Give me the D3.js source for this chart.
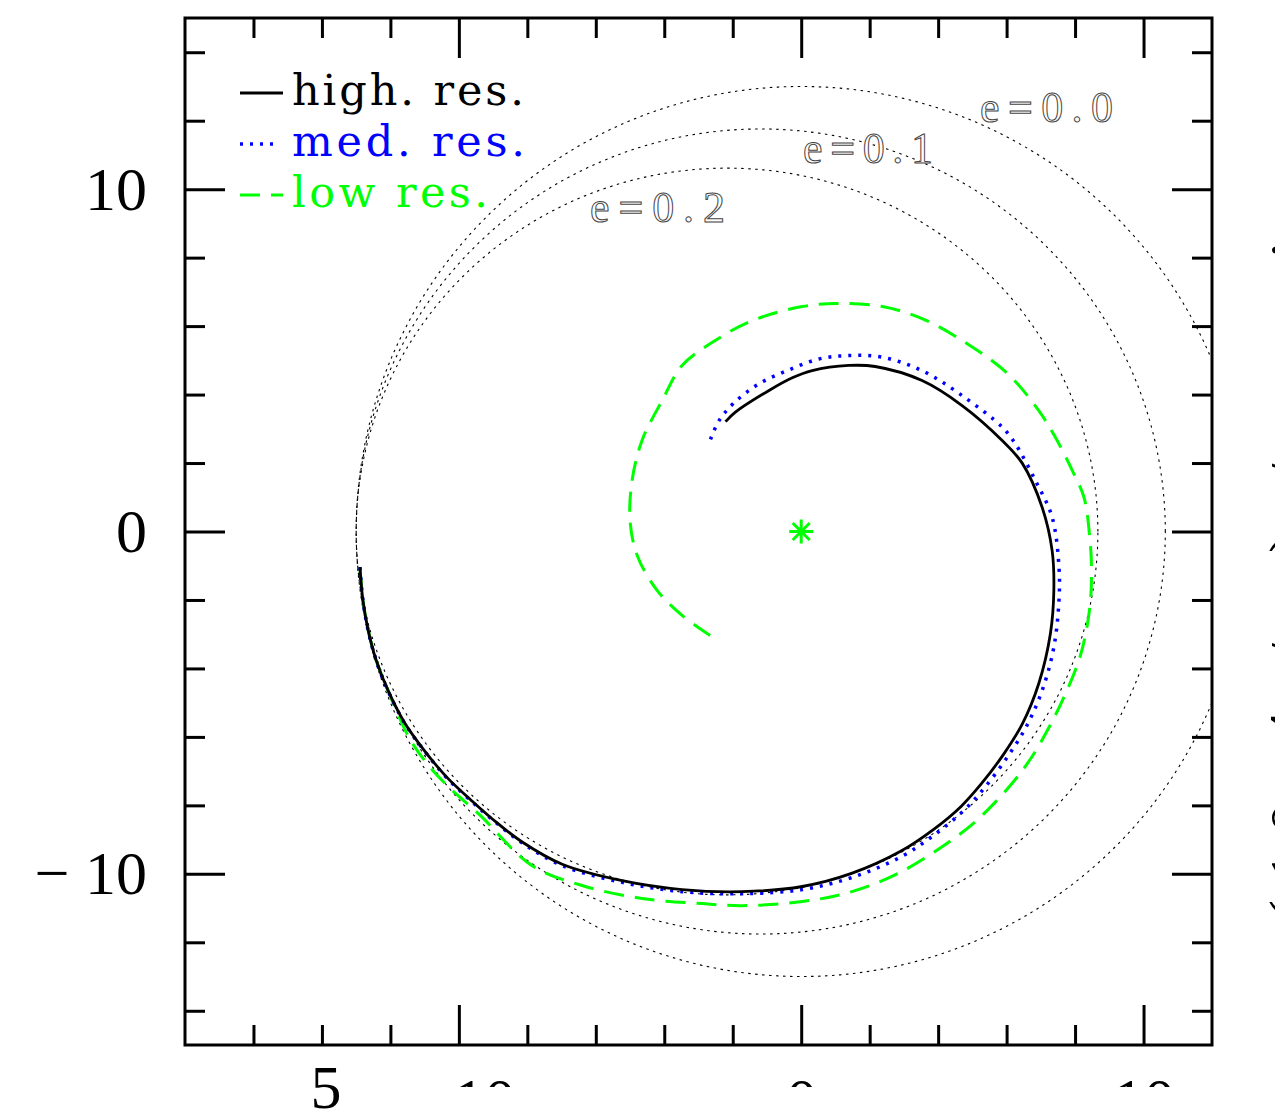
<!DOCTYPE html>
<html>
<head>
<meta charset="utf-8">
<script src="https://cdn.jsdelivr.net/npm/d3@7"></script>
<style>
  body { margin: 0; background: #fff; }
  svg { display: block; }
</style>
</head>
<body>
<div id="chart"></div>
<script>
// tick values
var xMajorTicks = [-10, 0, 10];
var xMinorTicks = [-16, -14, -12, -8, -6, -4, -2, 2, 4, 6, 8];
var yMajorTicks = [-10, 0, 10];
var yMinorTicks = [-14, -12, -8, -6, -4, -2, 2, 4, 6, 8, 12, 14];

// reference orbits: eccentricities and common apocentre distance
var eccentricities = [0.0, 0.1, 0.2];
var eccLabels = ["e=0.0", "e=0.1", "e=0.2"];
var apocentre = 13;

// spiral tracks, [x, y]
var highRes = [[-2.21,3.21],[-1.93,3.48],[-0.94,4.12],[-0.26,4.49],[0.32,4.70],[1.39,4.85],[2.16,4.82],
  [3.53,4.41],[4.70,3.68],[5.87,2.66],[6.46,1.99],[7.04,0.70],[7.33,-0.56],[7.38,-1.72],[7.28,-2.98],
  [6.94,-4.44],[6.46,-5.62],[5.91,-6.51],[5.27,-7.36],[4.67,-8.03],[3.87,-8.70],[2.89,-9.35],
  [1.49,-9.98],[0.03,-10.37],[-1.72,-10.52],[-3.48,-10.46],[-5.23,-10.20],[-6.98,-9.72],[-8.15,-9.07],
  [-9.03,-8.39],[-9.62,-7.87],[-10.37,-7.16],[-11.03,-6.37],[-11.59,-5.58],[-12.08,-4.62],
  [-12.42,-3.75],[-12.65,-2.88],[-12.80,-2.03],[-12.89,-1.04]];
var medRes = [[-2.65,2.69],[-2.40,3.24],[-1.97,3.75],[-1.24,4.31],[-0.36,4.72],[0.52,5.04],[1.39,5.14],
  [2.37,5.09],[3.53,4.70],[4.70,3.97],[5.87,3.05],[6.25,2.57],[6.84,1.49],[7.33,0.42],[7.53,-1.04],
  [7.53,-2.02],[7.38,-3.38],[7.04,-4.64],[6.57,-5.71],[6.00,-6.62],[5.36,-7.48],[4.75,-8.15],
  [3.93,-8.83],[2.94,-9.49],[1.50,-10.10],[0.03,-10.46],[-1.72,-10.58],[-3.48,-10.52],[-5.23,-10.25],
  [-6.98,-9.76],[-8.15,-9.10],[-9.03,-8.41],[-9.62,-7.89],[-10.37,-7.18],[-11.03,-6.38],[-11.59,-5.59],
  [-12.08,-4.63],[-12.42,-3.76],[-12.65,-2.89],[-12.80,-2.03],[-12.89,-1.04]];
var lowRes = [[-2.66,-3.04],[-3.48,-2.45],[-4.21,-1.72],[-4.79,-0.70],[-5.00,0.32],[-4.94,1.49],
  [-4.65,2.66],[-4.06,3.83],[-3.48,4.85],[-2.51,5.58],[-1.43,6.16],[0.03,6.57],[1.05,6.66],[2.37,6.57],
  [3.53,6.22],[4.70,5.58],[6.02,4.62],[6.94,3.53],[7.42,2.76],[7.92,1.78],[8.26,1.00],[8.42,-0.07],
  [8.48,-1.04],[8.45,-2.02],[8.31,-2.99],[8.11,-3.77],[7.72,-4.74],[7.24,-5.72],[6.74,-6.58],
  [6.20,-7.31],[5.30,-8.28],[4.65,-8.83],[2.94,-9.93],[1.48,-10.52],[0.03,-10.81],[-1.73,-10.93],
  [-2.89,-10.87],[-4.65,-10.72],[-6.40,-10.34],[-7.86,-9.76],[-9.42,-8.25],[-10.29,-7.47],
  [-10.93,-6.78],[-11.46,-6.01],[-12.08,-4.62],[-12.42,-3.75],[-12.65,-2.88],
  [-12.80,-2.03],[-12.89,-1.04]];
var centre = [[0, 0]];

var W = 1287, H = 1113;
var pLeft = 185, pRight = 1212, pTop = 18, pBottom = 1045;

var svg = d3.select("#chart").append("svg")
    .attr("width", W)
    .attr("height", H);

var x = d3.scaleLinear().domain([-18, 12]).range([pLeft, pRight]);
var y = d3.scaleLinear().domain([-15, 15]).range([pBottom, pTop]);

svg.append("clipPath").attr("id", "plotclip")
  .append("rect")
    .attr("x", pLeft).attr("y", pTop)
    .attr("width", pRight - pLeft).attr("height", pBottom - pTop);

var plot = svg.append("g").attr("clip-path", "url(#plotclip)");

// reference ellipses, focus at origin, apocentre on the left
var line = d3.line()
    .x(function (d) { return x(d[0]); })
    .y(function (d) { return y(d[1]); });

var thetas = d3.range(0, 361, 1);
eccentricities.forEach(function (e) {
    var a = apocentre / (1 + e);
    var pts = thetas.map(function (t) {
        var th = t * Math.PI / 180;
        var r = a * (1 - e * e) / (1 + e * Math.cos(th));
        return [r * Math.cos(th), r * Math.sin(th)];
    });
    plot.append("path")
        .attr("d", line(pts))
        .attr("fill", "none")
        .attr("stroke", "#000")
        .attr("stroke-width", 1.1)
        .attr("stroke-dasharray", "2.5,4.5");
});

// spiral tracks
var smooth = d3.line()
    .x(function (d) { return x(d[0]); })
    .y(function (d) { return y(d[1]); })
    .curve(d3.curveCatmullRom.alpha(0.5));

plot.append("path")
    .attr("d", smooth(lowRes))
    .attr("fill", "none")
    .attr("stroke", "#00ff00")
    .attr("stroke-width", 3)
    .attr("stroke-dasharray", "20,11");

plot.append("path")
    .attr("d", smooth(medRes))
    .attr("fill", "none")
    .attr("stroke", "#0000ff")
    .attr("stroke-width", 3.5)
    .attr("stroke-dasharray", "3,7");

plot.append("path")
    .attr("d", smooth(highRes))
    .attr("fill", "none")
    .attr("stroke", "#000")
    .attr("stroke-width", 2.8);

// central star
var asterisk = {
    draw: function (ctx, size) {
        var r = Math.sqrt(size) / 2;
        for (var i = 0; i < 4; i++) {
            var a = i * Math.PI / 4;
            ctx.moveTo(-r * Math.cos(a), -r * Math.sin(a));
            ctx.lineTo(r * Math.cos(a), r * Math.sin(a));
        }
    }
};
plot.selectAll(".star")
    .data(centre)
    .enter().append("path")
    .attr("class", "star")
    .attr("transform", function (d) { return "translate(" + x(d[0]) + "," + y(d[1]) + ")"; })
    .attr("d", d3.symbol().type(asterisk).size(24 * 24))
    .attr("fill", "none")
    .attr("stroke", "#00ff00")
    .attr("stroke-width", 3);

// axes with inward ticks on all four sides
var tickFont = "'Liberation Serif', 'DejaVu Serif', serif";
var fmt = function (d) { return d < 0 ? "\u2212 " + Math.abs(d) : String(d); };

function styleAxis(g) {
    g.select(".domain").remove();
    g.selectAll(".tick line").attr("stroke", "#000").attr("stroke-width", 3);
}

// bottom labels are cut short in the reference
svg.append("clipPath").attr("id", "xlabclip")
  .append("rect").attr("x", 0).attr("y", -100).attr("width", W).attr("height", 142);

svg.append("g").attr("transform", "translate(0," + pBottom + ")")
    .call(d3.axisBottom(x).tickValues(xMinorTicks).tickSize(-20).tickFormat(""))
    .call(styleAxis);
svg.append("g").attr("transform", "translate(0," + pBottom + ")")
    .attr("clip-path", "url(#xlabclip)")
    .call(d3.axisBottom(x).tickValues(xMajorTicks).tickSize(-40).tickPadding(32).tickFormat(fmt))
    .call(styleAxis)
    .selectAll("text")
    .attr("font-family", tickFont).attr("font-size", 62).attr("fill", "#000");

svg.append("g").attr("transform", "translate(0," + pTop + ")")
    .call(d3.axisTop(x).tickValues(xMinorTicks).tickSize(-20).tickFormat(""))
    .call(styleAxis);
svg.append("g").attr("transform", "translate(0," + pTop + ")")
    .call(d3.axisTop(x).tickValues(xMajorTicks).tickSize(-40).tickFormat(""))
    .call(styleAxis);

svg.append("g").attr("transform", "translate(" + pLeft + ",0)")
    .call(d3.axisLeft(y).tickValues(yMinorTicks).tickSize(-20).tickFormat(""))
    .call(styleAxis);
svg.append("g").attr("transform", "translate(" + pLeft + ",0)")
    .call(d3.axisLeft(y).tickValues(yMajorTicks).tickSize(-40).tickPadding(38).tickFormat(fmt))
    .call(styleAxis)
    .selectAll("text")
    .attr("font-family", tickFont).attr("font-size", 62).attr("fill", "#000");

svg.append("g").attr("transform", "translate(" + pRight + ",0)")
    .call(d3.axisRight(y).tickValues(yMinorTicks).tickSize(-20).tickFormat(""))
    .call(styleAxis);
svg.append("g").attr("transform", "translate(" + pRight + ",0)")
    .call(d3.axisRight(y).tickValues(yMajorTicks).tickSize(-40).tickFormat(""))
    .call(styleAxis);

// frame
svg.append("rect")
    .attr("x", pLeft).attr("y", pTop)
    .attr("width", pRight - pLeft).attr("height", pBottom - pTop)
    .attr("fill", "none")
    .attr("stroke", "#000")
    .attr("stroke-width", 3);

// stray labels from the neighbouring panel
svg.append("text")
    .attr("x", 326).attr("y", 1108)
    .attr("text-anchor", "middle")
    .attr("font-family", tickFont).attr("font-size", 62)
    .text("5");

svg.append("clipPath").attr("id", "stripclip")
  .append("rect").attr("x", 1267).attr("y", 0).attr("width", 8).attr("height", H);
svg.append("g")
    .attr("clip-path", "url(#stripclip)")
  .append("text")
    .attr("transform", "translate(1312,545) rotate(-90)")
    .attr("text-anchor", "middle")
    .attr("font-family", tickFont).attr("font-size", 62)
    .attr("letter-spacing", 18)
    .text("y (10\u207B\u2074 / r) / r\u2080 sin \u03C6");

// eccentricity labels
var eccPos = [[980, 122, 133], [803, 163, 130], [590, 222, 135]];
svg.selectAll(".ecc")
    .data(eccLabels)
    .enter().append("text")
    .attr("class", "ecc")
    .attr("x", function (d, i) { return eccPos[i][0]; })
    .attr("y", function (d, i) { return eccPos[i][1]; })
    .attr("textLength", function (d, i) { return eccPos[i][2]; })
    .attr("lengthAdjust", "spacing")
    .attr("font-family", tickFont).attr("font-size", 44)
    .attr("fill", "#fff")
    .attr("stroke", "#444")
    .attr("stroke-width", 1)
    .text(function (d) { return d; });

// legend
var legendNames = ["high. res.", "med. res.", "low res."];
var legendColors = ["#000", "#0000ff", "#00ff00"];
var legendDash = [null, "3,7", "20,11"];
var legendWidth = [232, 233, 196];
var legend = svg.append("g");
legendNames.forEach(function (name, i) {
    var yy = 105 + i * 51;
    legend.append("line")
        .attr("x1", 240).attr("x2", i == 1 ? 277 : 283)
        .attr("y1", yy - 12).attr("y2", yy - 12)
        .attr("stroke", legendColors[i])
        .attr("stroke-width", i == 1 ? 3.5 : 3)
        .attr("stroke-dasharray", legendDash[i]);
    legend.append("text")
        .attr("x", 292).attr("y", yy)
        .attr("textLength", legendWidth[i])
        .attr("lengthAdjust", "spacing")
        .attr("font-family", "'DejaVu Serif', serif").attr("font-size", 43)
        .attr("fill", legendColors[i])
        .text(name);
});
</script>
</body>
</html>
